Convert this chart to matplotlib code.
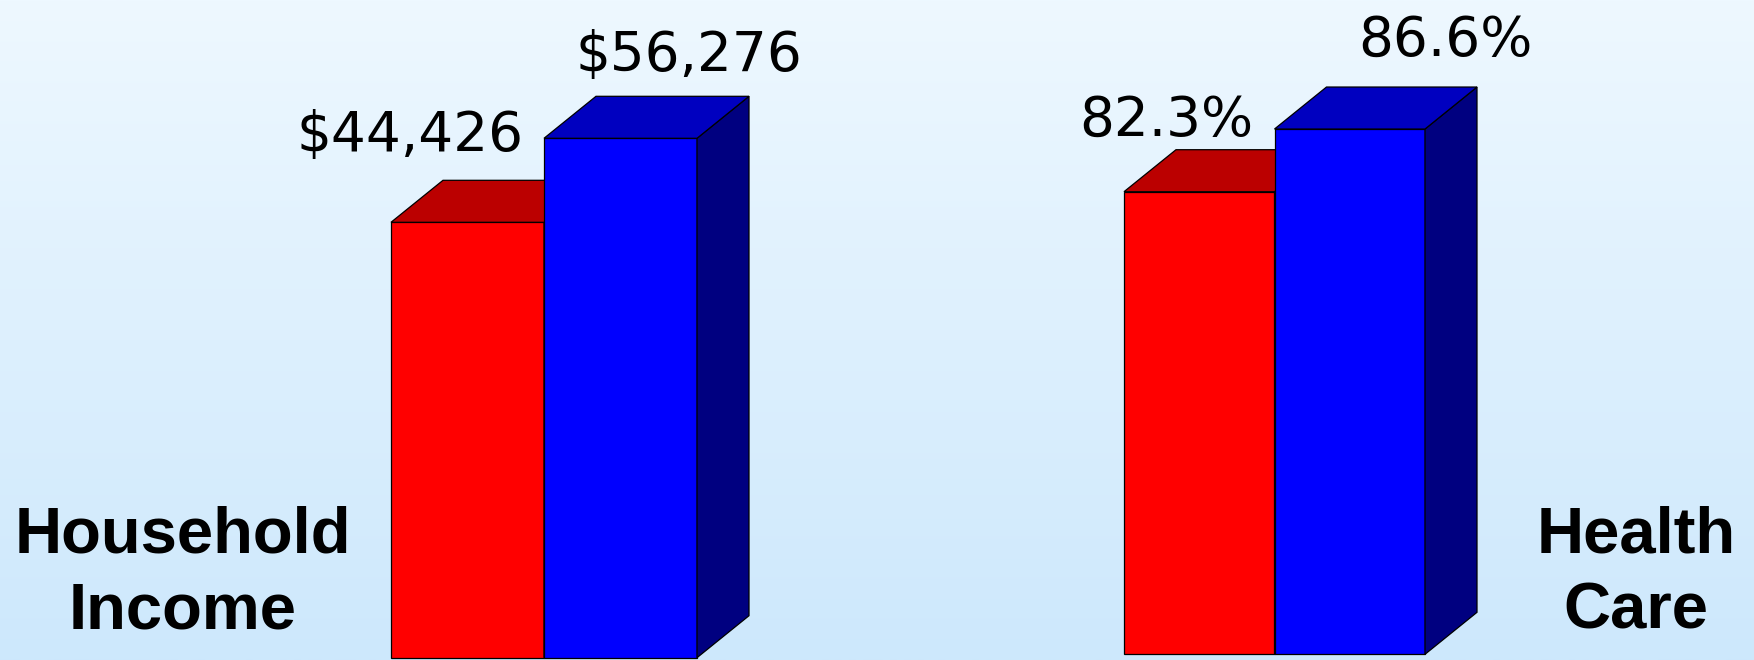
import numpy as np
import matplotlib
matplotlib.use('Agg')
import matplotlib.pyplot as plt
from matplotlib.patches import Polygon
from matplotlib.colors import LinearSegmentedColormap

# values
categories = ['Household\nIncome', 'Health\nCare']
income_values = [44426, 56276]
income_labels = ['$44,426', '$56,276']
health_values = [82.3, 86.6]
health_labels = ['82.3%', '86.6%']

front_colors = ['#ff0000', '#0000ff']
top_colors = ['#bb0000', '#0000c0']
side_colors = ['#990000', '#000080']

W, H = 1754, 660
DX, DY = 52, 42  # depth of the 3d boxes, pixels

fig = plt.figure(figsize=(W / 100, H / 100), dpi=100)

# background gradient
bg = fig.add_axes([0, 0, 1, 1], zorder=-10)
grad = np.linspace(0, 1, 256).reshape(-1, 1)
cmap = LinearSegmentedColormap.from_list('bg', ['#eef8ff', '#cde8fc'])
bg.imshow(grad, aspect='auto', cmap=cmap, extent=[0, 1, 0, 1], origin='upper')
bg.axis('off')


def shifted(ax, x, y):
    px, py = ax.transData.transform((x, y))
    return ax.transData.inverted().transform((px + DX, py + DY))


def box_group(rect, ylim, values, labels, label_offsets):
    ax = fig.add_axes(rect)
    ax.set_xlim(-0.5, 1.5)
    ax.set_ylim(*ylim)
    ax.axis('off')
    base = ylim[0]
    xs = np.arange(len(values))
    for i, v in enumerate(values):
        x0, x1 = xs[i] - 0.5, xs[i] + 0.5
        ax.bar(xs[i], v - base, bottom=base, width=1.0, color=front_colors[i],
               edgecolor='black', linewidth=0.9, clip_on=False, zorder=2 + 2 * i)
        tl = shifted(ax, x0, v)
        tr = shifted(ax, x1, v)
        br = shifted(ax, x1, base)
        top = Polygon([(x0, v), (x1, v), tuple(tr), tuple(tl)], closed=True,
                      facecolor=top_colors[i], edgecolor='black', linewidth=0.9,
                      clip_on=False, zorder=2 + 2 * i)
        side = Polygon([(x1, base), (x1, v), tuple(tr), tuple(br)], closed=True,
                       facecolor=side_colors[i], edgecolor='black', linewidth=0.9,
                       clip_on=False, zorder=2 + 2 * i)
        ax.add_patch(side)
        ax.add_patch(top)
        ax.annotate(labels[i], xy=(xs[i], v), xytext=label_offsets[i],
                    textcoords='offset pixels', ha='center', va='baseline',
                    fontsize=39.5, family='DejaVu Sans', color='black',
                    annotation_clip=False, zorder=10)
    return ax


box_group([391 / W, 2.3 / H, 306 / W, 657.7 / H], (-16997, 75786),
          income_values, income_labels, [(-57, 71), (68, 67)])
box_group([1124 / W, 5.7 / H, 301 / W, 654.3 / H], (50.57, 95.45),
          health_values, health_labels, [(-33, 56), (96, 73)])

# category captions
cat_pos = [(183, 552.3), (1636, 552.3)]
for text, (cx, cy) in zip(categories, cat_pos):
    for k, line in enumerate(text.split('\n')):
        fig.text(cx / W, 1 - (cy + k * 76.5) / H, line, ha='center', va='baseline',
                 fontsize=47, fontweight='bold', family='Liberation Sans',
                 color='black')

fig.savefig('out.png', dpi=100)
